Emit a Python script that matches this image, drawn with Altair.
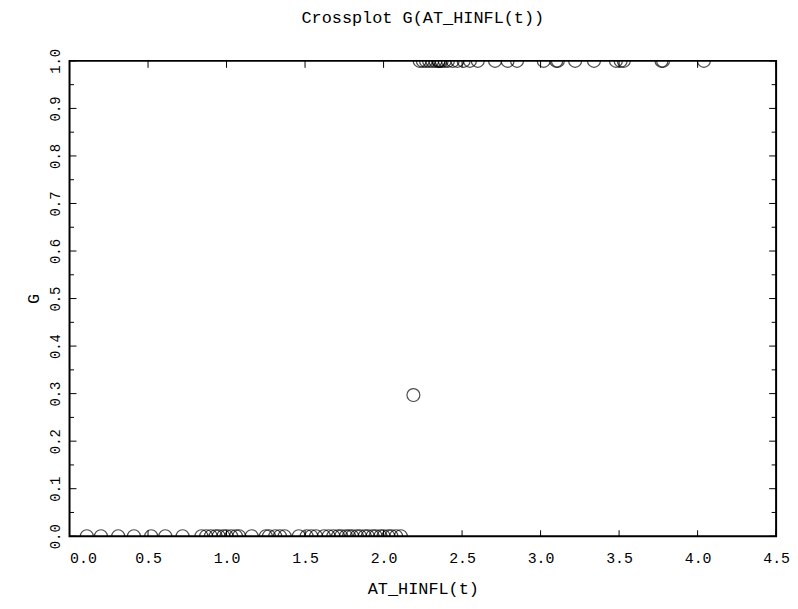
import altair as alt
import pandas as pd

# G = 0 group
g0_x = [0.11, 0.20, 0.31, 0.41, 0.52, 0.61, 0.72, 0.84, 0.87, 0.90, 0.93, 0.95,
        0.98, 1.00, 1.03, 1.06, 1.08, 1.16, 1.25, 1.27, 1.31, 1.34, 1.37, 1.46,
        1.51, 1.54, 1.57, 1.62, 1.65, 1.68, 1.71, 1.73, 1.76, 1.78, 1.80, 1.83,
        1.85, 1.88, 1.90, 1.93, 1.95, 1.98, 2.00, 2.03, 2.05, 2.08, 2.11]
# single intermediate point
mid_x = [2.19]
mid_g = [0.297]
# G = 1 group
g1_x = [2.23, 2.25, 2.27, 2.29, 2.31, 2.33, 2.35, 2.35, 2.36, 2.37, 2.39, 2.41,
        2.44, 2.47, 2.51, 2.55, 2.60, 2.71, 2.79, 2.85, 3.02, 3.10, 3.11, 3.22,
        3.34, 3.48, 3.51, 3.53, 3.77, 3.78, 4.04]

x_ticks = [0.0, 0.5, 1.0, 1.5, 2.0, 2.5, 3.0, 3.5, 4.0, 4.5]
y_major = [0.0, 0.1, 0.2, 0.3, 0.4, 0.5, 0.6, 0.7, 0.8, 0.9, 1.0]
y_minor = [0.05, 0.15, 0.25, 0.35, 0.45, 0.55, 0.65, 0.75, 0.85, 0.95]

points = pd.DataFrame({
    'x': g0_x + mid_x + g1_x,
    'g': [0.0] * len(g0_x) + mid_g + [1.0] * len(g1_x),
})

W, H = 712, 479
FONT = 'Liberation Mono'

xs = alt.Scale(domain=[0, 4.5], nice=False, zero=False)
ys = alt.Scale(domain=[0, 1], nice=False)

x_axis = alt.Axis(
    values=x_ticks, format='.1f', ticks=False, domain=False, grid=False,
    labelFlush=False, labelPadding=14, titlePadding=16,
    labelAlign={'condition': {'test': 'datum.value === 0', 'value': 'left'}, 'value': 'center'},
)
y_axis = alt.Axis(
    values=y_major, format='.1f', ticks=False, domain=False, grid=False,
    labelFlush=False, labelAngle=270, labelAlign='center', labelBaseline='bottom',
    labelFontSize=14, labelPadding=7, titlePadding=6,
)

pts = alt.Chart(points).mark_point(
    shape='circle', filled=False, size=170, color='black', strokeWidth=1.2, clip=True
).encode(
    x=alt.X('x:Q', scale=xs, title='AT_HINFL(t)', axis=x_axis),
    y=alt.Y('g:Q', scale=ys, title='G', axis=y_axis),
)

xt = alt.Chart(pd.DataFrame({'x': x_ticks}))
ymaj = alt.Chart(pd.DataFrame({'g': y_major}))
ymin = alt.Chart(pd.DataFrame({'g': y_minor}))

X = alt.X('x:Q', scale=xs, title='AT_HINFL(t)')
Y = alt.Y('g:Q', scale=ys, title='G')

tick_bottom = xt.mark_rule(color='black').encode(x=X, y=alt.value(H), y2=alt.value(H - 6))
tick_top = xt.mark_rule(color='black').encode(x=X, y=alt.value(0), y2=alt.value(7))
left_major = ymaj.mark_rule(color='black').encode(y=Y, x=alt.value(0), x2=alt.value(7))
left_minor = ymin.mark_rule(color='black').encode(y=Y, x=alt.value(0), x2=alt.value(4.5))
right_major = ymaj.mark_rule(color='black').encode(y=Y, x=alt.value(W), x2=alt.value(W - 7))
right_minor = ymin.mark_rule(color='black').encode(y=Y, x=alt.value(W), x2=alt.value(W - 4.5))

chart = alt.layer(
    tick_bottom, tick_top, left_major, left_minor, right_major, right_minor, pts
).properties(
    width=W, height=H,
    autosize='none',
    padding={'left': 62, 'top': 51, 'right': 14, 'bottom': 65},
    title=alt.TitleParams(
        'Crossplot G(AT_HINFL(t))', font=FONT, fontSize=17, fontWeight='normal',
        color='black', anchor='middle', offset=22,
    ),
).configure_view(
    stroke='black', strokeWidth=2
).configure_axis(
    labelFont=FONT, labelFontSize=15, labelColor='black',
    titleFont=FONT, titleFontSize=17, titleFontWeight='normal', titleColor='black',
)

chart.save('out.html', embed_options={'renderer': 'svg', 'actions': False})
